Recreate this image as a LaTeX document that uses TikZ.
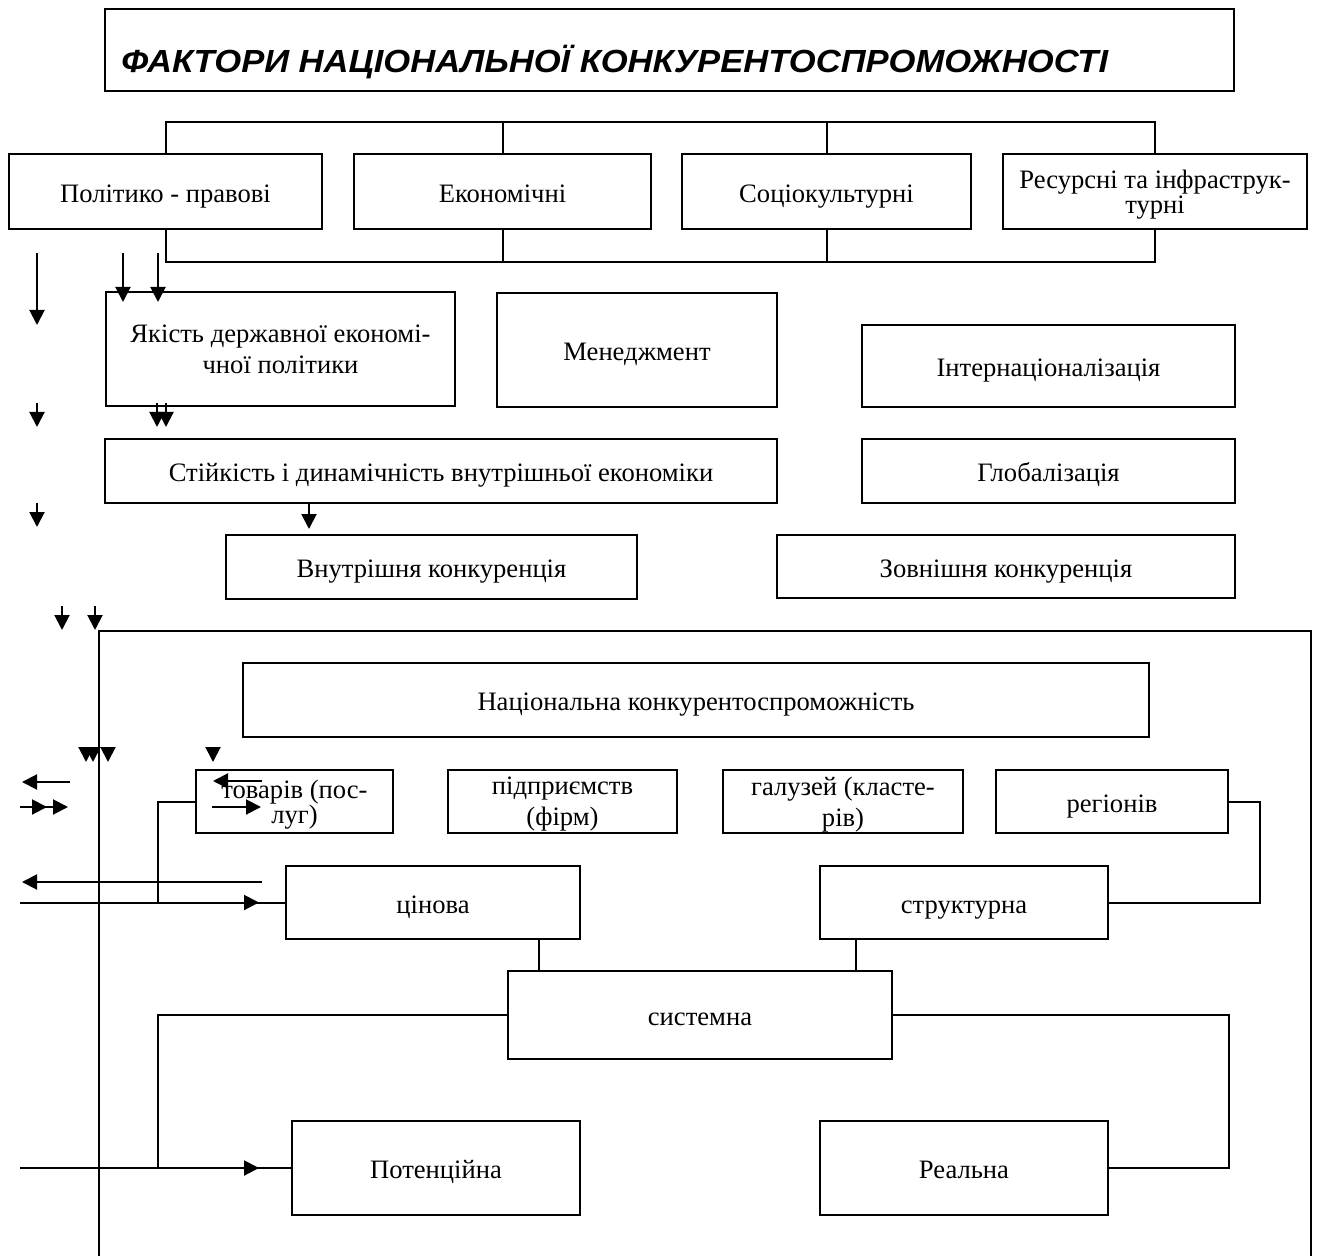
\documentclass[tikz,border=0pt]{standalone}
\usepackage{fontspec}
\setmainfont{Liberation Serif}
\newfontfamily\titlefont{Liberation Sans}[FakeStretch=1.08]
\usepackage{tikz}
\usetikzlibrary{arrows.meta, calc}
\newcommand{\topstrut}{\rule{0pt}{13.8pt}}
\newcommand{\botstrut}{\rule[-3pt]{0pt}{3pt}}
\tikzset{
  box/.style n args={2}{
    rectangle, draw, line width=1pt,
    minimum width=#1*0.5pt, minimum height=#2*0.5pt,
    inner sep=1pt, align=center,
    font=\fontsize{13.3}{15.5}\selectfont,
    execute at begin node=\topstrut,
    execute at end node=\botstrut
  },
  twoline/.style={text depth=-1pt},
  tbox/.style={
    rectangle, draw, line width=1pt,
    minimum width=564.5pt, minimum height=41pt
  },
  ttext/.style={
    anchor=base west, inner sep=0pt,
    font=\titlefont\bfseries\itshape\fontsize{16}{18}\selectfont
  },
  line/.style={line width=1pt},
  arr/.style={-{Triangle[length=7.5pt, width=7.5pt]}, line width=1pt},
  darr/.style={-{Triangle[length=7.5pt, width=7.5pt, sep=3pt]Triangle[length=7.5pt, width=7.5pt]}, line width=1pt},
}

\begin{document}
\begin{tikzpicture}[x=0.5pt, y=-0.5pt]

\useasboundingbox (0,0) rectangle (1320,1256);

% Title
\node[tbox] at (669.5,50) (title) {};
\node[ttext] at ($(title.west)+(17,23)$) (titletext) {ФАКТОРИ НАЦІОНАЛЬНОЇ КОНКУРЕНТОСПРОМОЖНОСТІ};

% Factor groups
\node[box={313}{75}] at (165.5,191.5) (pol) {Політико - правові};
\node[box={297}{75}] at (502.5,191.5) (eco) {Економічні};
\node[box={289}{75}] at (826.5,191.5) (soc) {Соціокультурні};
\node[box={304}{75}, twoline] at (1155,191.5) (res) {Ресурсні та інфраструк-\\[-3pt]турні};

% Second level
\node[box={349}{114}, twoline] at (280.5,349) (yak) {Якість державної економі-\\чної політики};
\node[box={280}{114}] at (637,350) (men) {Менеджмент};
\node[box={373}{82}] at (1048.5,366) (int) {Інтернаціоналізація};
\node[box={672}{64}] at (441,471) (stij) {Стійкість і динамічність внутрішньої економіки};
\node[box={373}{64}] at (1048.5,471) (glob) {Глобалізація};
\node[box={411}{64}] at (431.5,567) (vnut) {Внутрішня конкуренція};
\node[box={458}{63}] at (1006,566.5) (zovn) {Зовнішня конкуренція};

% National competitiveness block
\draw[line] (99,1256) |- (1311,631) -- (1311,1256);
\node[box={906}{74}] at (696,700) (nat) {Національна конкурентоспроможність};
\node[box={197}{63}, twoline] at (294.5,801.5) (tov) {товарів (пос-\\[-3pt]луг)};
\node[box={229}{63}, twoline] at (562.5,801.5) (pid) {підприємств\\(фірм)};
\node[box={240}{63}, twoline] at (843,801.5) (gal) {галузей (класте-\\рів)};
\node[box={232}{63}] at (1112,801.5) (reg) {регіонів};
\node[box={294}{73}] at (433,902.5) (cin) {цінова};
\node[box={288}{73}] at (964,902.5) (str) {структурна};
\node[box={384}{88}] at (700,1015) (sys) {системна};
\node[box={288}{94}] at (436,1168) (pot) {Потенційна};
\node[box={288}{94}] at (964,1168) (real) {Реальна};

% Brackets round the factor groups
\draw[line] (pol.north) -- ++(0,-31) -| (res.north);
\draw[line] (eco.north) -- ++(0,-31);
\draw[line] (soc.north) -- ++(0,-31);
\draw[line] (pol.south) -- ++(0,32) -| (res.south);
\draw[line] (eco.south) -- ++(0,32);
\draw[line] (soc.south) -- ++(0,32);

% Loose down arrows
\foreach \x/\a/\b [count=\i] in {37/253/325, 123/253/302, 158/253/302,
    37/403/427, 157/403/427, 166/403/427, 37/503/527, 62/606/630, 95/606/630,
    86/747/762, 93/747/762, 108/747/762, 213/747/762} {
  \coordinate (va\i) at (\x,\a);
  \coordinate (vb\i) at (\x,\b);
  \draw[arr] (va\i) -- (vb\i);
}
\draw[arr] ($(stij.south west)+(205,0)$) -- ++(0,25);

% Loose side arrows
\foreach \xa/\xb/\y [count=\i] in {70/22/782, 262/213/781, 212/261/807, 262/22/882} {
  \coordinate (ha\i) at (\xa,\y);
  \coordinate (hb\i) at (\xb,\y);
  \draw[arr] (ha\i) -- (hb\i);
}
\coordinate (dblA) at (20,807);
\coordinate (dblB) at (68,807);
\draw[darr] (dblA) -- (dblB);

% Links in the lower block
\draw[line] (tov.west) -- ++(-37,0) |- (cin.west);
\coordinate (cinIn) at (20,902.5);
\draw[line] (cinIn) -- (cin.west);
\draw[arr, shorten >=13pt] (cinIn) -- (cin.west);
\draw[line] (reg.east) -- ++(31,0) |- (str.east);
\draw[line] (cin.south) ++(106,0) coordinate (j1) -- (j1 |- sys.north);
\draw[line] (str.south) ++(-108,0) coordinate (j2) -- (j2 |- sys.north);
\draw[line] (sys.west) -| ($(pot.west)+(-133,0)$) -- (pot.west);
\coordinate (potIn) at (20,1168);
\draw[line] (potIn) -- (pot.west);
\draw[arr, shorten >=16pt] (potIn) -- (pot.west);
\draw[line] (sys.east) -| ($(real.east)+(120,0)$) -- (real.east);

\end{tikzpicture}
\end{document}
